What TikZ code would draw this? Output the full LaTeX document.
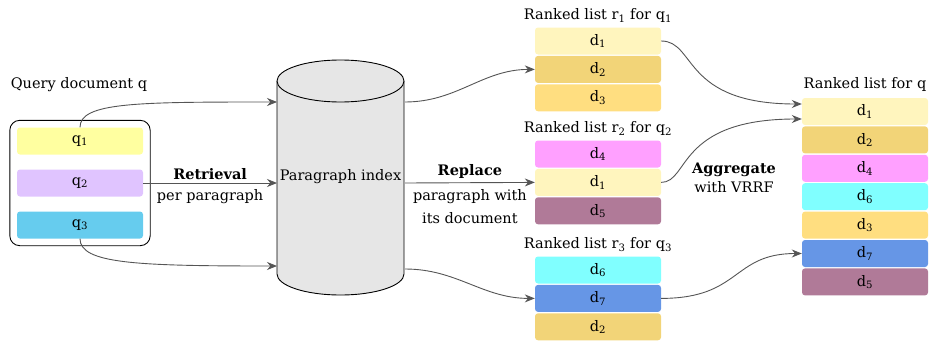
\documentclass[tikz,border=0pt]{standalone}
\usepackage{fontspec}
\setmainfont{DejaVu Serif}
\usetikzlibrary{positioning,fit,arrows.meta}

\definecolor{qone}{RGB}{255,255,160}
\definecolor{qtwo}{RGB}{224,196,255}
\definecolor{qthree}{RGB}{102,204,238}
\definecolor{done}{RGB}{255,245,190}
\definecolor{dtwo}{RGB}{242,212,120}
\definecolor{dthree}{RGB}{255,222,128}
\definecolor{dfour}{RGB}{255,160,255}
\definecolor{dfive}{RGB}{176,122,152}
\definecolor{dsix}{RGB}{128,255,255}
\definecolor{dseven}{RGB}{102,150,230}
\definecolor{idxgray}{RGB}{230,230,230}
\definecolor{arrowgray}{RGB}{85,85,85}

\tikzset{
  doc/.style={rounded corners=3pt, minimum width=126pt, minimum height=27pt, inner sep=0pt},
  flow/.style={draw=arrowgray, line width=0.9pt, -{Stealth[length=10pt,width=8pt]}},
}

\begin{document}
\begin{tikzpicture}[x=1pt,y=-1pt,font=\fontsize{14.5}{17}\selectfont]
  \useasboundingbox (0,0) rectangle (931,340);
  % query document
  \node (qtitle) at (79,85) {Query document q};
  \node[doc,fill=qone] (q1) at (80,141) {q\textsubscript{1}};
  \node[doc,fill=qtwo] (q2) at (80,183) {q\textsubscript{2}};
  \node[doc,fill=qthree] (q3) at (80,225) {q\textsubscript{3}};
  \node[draw,line width=0.9pt,rounded corners=10pt,fit=(q1)(q3),inner sep=7pt] (query) {};

  % paragraph index
  \filldraw[fill=idxgray,line width=0.9pt] (277,81) -- (277,274)
    arc[start angle=180,end angle=360,x radius=63.5pt,y radius=21pt] -- (404,81);
  \filldraw[fill=idxgray,line width=0.9pt] (340.5,81) ellipse[x radius=63.5pt,y radius=21pt];
  \node (idx) at (340.5,177) {Paragraph index};
  \coordinate (idxinA) at (277,102);
  \coordinate (idxinB) at (277,183);
  \coordinate (idxinC) at (277,266);
  \coordinate (idxoutA) at (405,102);
  \coordinate (idxoutB) at (405,183);
  \coordinate (idxoutC) at (405,269);

  % ranked lists per paragraph
  \node[doc,fill=done] (r1a) at (598,41) {d\textsubscript{1}};
  \node[doc,fill=dtwo,below=1pt of r1a] (r1b) {d\textsubscript{2}};
  \node[doc,fill=dthree,below=1pt of r1b] (r1c) {d\textsubscript{3}};
  \node[above=1pt of r1a] (r1title) {Ranked list r\textsubscript{1} for q\textsubscript{1}};

  \node[doc,fill=dfour] (r2a) at (598,154) {d\textsubscript{4}};
  \node[doc,fill=done,below=1pt of r2a] (r2b) {d\textsubscript{1}};
  \node[doc,fill=dfive,below=1pt of r2b] (r2c) {d\textsubscript{5}};
  \node[above=1pt of r2a] (r2title) {Ranked list r\textsubscript{2} for q\textsubscript{2}};

  \node[doc,fill=dsix] (r3a) at (598,270) {d\textsubscript{6}};
  \node[doc,fill=dseven,below=1pt of r3a] (r3b) {d\textsubscript{7}};
  \node[doc,fill=dtwo,below=1pt of r3b] (r3c) {d\textsubscript{2}};
  \node[above=1pt of r3a] (r3title) {Ranked list r\textsubscript{3} for q\textsubscript{3}};

  % final ranked list
  \node[doc,fill=done] (f1) at (865,111.5) {d\textsubscript{1}};
  \node[doc,fill=dtwo,below=1pt of f1] (f2) {d\textsubscript{2}};
  \node[doc,fill=dfour,below=1pt of f2] (f3) {d\textsubscript{4}};
  \node[doc,fill=dsix,below=1pt of f3] (f4) {d\textsubscript{6}};
  \node[doc,fill=dthree,below=1pt of f4] (f5) {d\textsubscript{3}};
  \node[doc,fill=dseven,below=1pt of f5] (f6) {d\textsubscript{7}};
  \node[doc,fill=dfive,below=1pt of f6] (f7) {d\textsubscript{5}};
  \node[above=3pt of f1] (ftitle) {Ranked list for q};

  % retrieval
  \draw[flow] (q1.north) .. controls +(0,-25) and +(-140,0) .. (idxinA);
  \draw[flow] (q2.east) -- node[above]{\textbf{Retrieval}}
    node[below,yshift=-3pt]{per paragraph} (idxinB);
  \draw[flow] (q3.south) .. controls +(0,25) and +(-140,0) .. (idxinC);

  % replace
  \draw[flow] (idxoutA) to[out=0,in=180] (r1b.west);
  \draw[flow] (idxoutB) -- node[above]{\textbf{Replace}}
    node[below,yshift=-3pt,align=center]{paragraph with\\[6pt]its document} (r2b.west);
  \draw[flow] (idxoutC) to[out=0,in=180] (r3b.west);

  % aggregate
  \draw[flow] (r1a.east) .. controls +(35,0) and +(-120,0) .. ([yshift=7.5pt]f1.west);
  \draw[flow] (r2b.east) .. controls +(28,0) and +(-125,0) .. ([yshift=-7.5pt]f1.west);
  \draw[flow] (r3b.east) .. controls +(80,0) and +(-70,0) .. (f6.west);
  \node[align=center] (agg) at (734,178) {\textbf{Aggregate}\\[2pt]with VRRF};
\end{tikzpicture}
\end{document}
